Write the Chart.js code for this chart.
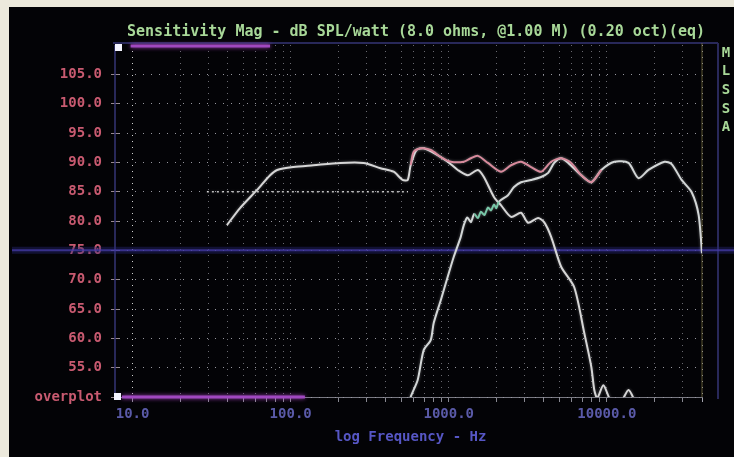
<!DOCTYPE html>
<html>
<head>
<meta charset="utf-8">
<script src="https://cdn.jsdelivr.net/npm/chart.js@4/dist/chart.umd.min.js"></script>
<style>
  html, body { margin: 0; padding: 0; background: #ece9dc; }
  canvas { display: block; }
</style>
</head>
<body>
<canvas id="c" width="734" height="457"></canvas>
<script>
// ---- data ----
const titleText = 'Sensitivity Mag - dB SPL/watt (8.0 ohms, @1.00 M) (0.20 oct)(eq)';
const legendLetters = ['M', 'L', 'S', 'S', 'A'];
const xTitle = 'log Frequency - Hz';
const xDecades = [10, 100, 1000, 10000];
const yTickValues = [50, 55, 60, 65, 70, 75, 80, 85, 90, 95, 100, 105];

const wooferFreq = [39.5, 47.8, 61.3, 74.1, 82.1, 104, 139, 206, 289, 370, 448, 510, 550, 574, 626, 694, 803, 985, 1140, 1321, 1528, 1668, 1931, 2138, 2477, 2866, 3174, 3672, 4010, 4443, 5140, 6220, 7200, 7980, 8330, 8700, 9500, 10370, 11480, 12730, 13700, 14730, 16560];
const wooferDb   = [79.3, 82.2, 85.3, 87.8, 88.7, 89.2, 89.5, 89.9, 89.9, 89.0, 88.4, 87.0, 87.0, 89.5, 92.1, 92.4, 91.6, 90.1, 88.7, 87.8, 88.7, 87.5, 84.1, 82.7, 80.7, 81.4, 79.7, 80.5, 79.8, 77.3, 72.2, 68.7, 60.9, 55.1, 51.2, 49.8, 52.0, 49.8, 47.8, 49.8, 51.2, 49.8, 46.0];

const tweeterFreq = [496, 574, 636, 694, 769, 803, 890, 985, 1076, 1191, 1245, 1310, 1379, 1450, 1528, 1597, 1680, 1770, 1850, 1931, 2000, 2076, 2370, 2588, 2866, 3318, 3838, 4253, 4643, 5140, 5700, 6890, 7980, 9230, 11160, 13700, 15850, 18340, 23180, 25700, 29720, 34420, 38100, 40000];
const tweeterDb   = [44.4, 50.0, 52.9, 58.0, 59.7, 62.6, 66.5, 70.5, 73.9, 77.3, 79.3, 80.6, 79.8, 81.2, 80.5, 81.6, 81.0, 82.3, 81.8, 82.8, 82.2, 83.3, 84.4, 85.8, 86.6, 87.0, 87.5, 88.2, 89.9, 90.7, 89.9, 87.8, 86.6, 88.7, 90.1, 89.9, 87.3, 88.7, 90.1, 89.7, 87.0, 84.9, 81.0, 74.5];

const sumFreq = [574, 600, 664, 769, 890, 1030, 1245, 1379, 1528, 1770, 2138, 2477, 2866, 3318, 3838, 4443, 5140, 5950, 6890, 7980, 9230];
const sumDb   = [89.5, 91.8, 92.4, 92.1, 90.9, 90.1, 90.1, 90.7, 91.1, 89.9, 88.4, 89.5, 90.1, 89.2, 88.4, 90.1, 90.7, 89.9, 87.8, 86.6, 88.7];

const refFreq = [29.5, 552];
const refDb   = [85, 85];

// ---- helpers ----
const pts = (xs, ys) => xs.map((x, i) => ({ x: x, y: ys[i] }));
const mono = '"DejaVu Sans Mono", "Liberation Mono", monospace';

function logTicks() {
  const out = [];
  for (const d of xDecades) {
    for (let m = 1; m <= 9; m++) {
      const v = d * m;
      if (v <= 40000) out.push({ value: v });
    }
  }
  out.push({ value: 40000 });
  return out;
}

const decor = {
  id: 'decor',
  beforeDraw(chart) {
    const ctx = chart.ctx;
    ctx.save();
    ctx.fillStyle = '#ece9dc';
    ctx.fillRect(0, 0, chart.width, chart.height);
    ctx.fillStyle = '#030306';
    ctx.fillRect(9, 7, chart.width - 9, chart.height - 7);
    ctx.restore();
  },
  beforeDatasetsDraw(chart) {
    const ctx = chart.ctx, a = chart.chartArea, y = chart.scales.y;
    ctx.save();
    ctx.strokeStyle = 'rgba(50,50,110,0.8)';
    ctx.lineWidth = 2;
    ctx.beginPath();
    ctx.moveTo(a.left - 6, a.top - 2); ctx.lineTo(a.right + 16, a.top - 2);
    ctx.moveTo(a.right + 16, a.top - 2); ctx.lineTo(a.right + 16, a.bottom + 2);
    ctx.moveTo(a.left - 4, a.top); ctx.lineTo(a.left - 4, a.bottom);
    ctx.stroke();
    ctx.strokeStyle = 'rgba(150,140,80,0.6)';
    ctx.lineWidth = 1;
    ctx.beginPath();
    ctx.moveTo(a.right, a.top - 2); ctx.lineTo(a.right, a.bottom);
    ctx.stroke();
    const yb = y.getPixelForValue(75);
    ctx.strokeStyle = 'rgba(40,40,120,0.4)';
    ctx.lineWidth = 7;
    ctx.beginPath(); ctx.moveTo(12, yb); ctx.lineTo(chart.width, yb); ctx.stroke();
    ctx.strokeStyle = 'rgba(70,60,170,0.75)';
    ctx.lineWidth = 2;
    ctx.beginPath(); ctx.moveTo(12, yb); ctx.lineTo(chart.width, yb); ctx.stroke();
    ctx.restore();
  },
  beforeDatasetDraw(chart) {
    const ctx = chart.ctx;
    ctx.save();
    ctx.shadowColor = 'rgba(255,255,255,0.35)';
    ctx.shadowBlur = 3;
  },
  afterDatasetDraw(chart) {
    chart.ctx.restore();
  },
  afterDatasetsDraw(chart) {
    const ctx = chart.ctx, a = chart.chartArea, x = chart.scales.x;
    ctx.save();
    ctx.shadowColor = 'rgba(200,80,230,0.8)';
    ctx.shadowBlur = 4;
    ctx.strokeStyle = '#a048c0';
    ctx.lineWidth = 3;
    ctx.beginPath();
    ctx.moveTo(x.getPixelForValue(10) - 2, a.top + 1);
    ctx.lineTo(x.getPixelForValue(74), a.top + 1);
    ctx.stroke();
    ctx.beginPath();
    ctx.moveTo(a.left + 3, a.bottom);
    ctx.lineTo(x.getPixelForValue(123), a.bottom);
    ctx.stroke();
    ctx.shadowBlur = 0;
    ctx.fillStyle = '#f4f4ff';
    ctx.fillRect(a.left - 4, a.top - 1, 7, 7);
    ctx.fillRect(a.left - 5, a.bottom - 4, 7, 7);
    ctx.restore();
  },
  afterDraw(chart) {
    const ctx = chart.ctx;
    ctx.save();
    ctx.fillStyle = '#a8d898';
    ctx.font = 'bold 15px ' + mono;
    ctx.textAlign = 'center';
    ctx.textBaseline = 'middle';
    ctx.fillText(titleText, 416, 32);
    ctx.font = 'bold 14px ' + mono;
    legendLetters.forEach((l, i) => ctx.fillText(l, 726, 53 + i * 18.7));
    ctx.restore();
  }
};

new Chart(document.getElementById('c'), {
  type: 'line',
  plugins: [decor],
  data: {
    datasets: [
      { label: 'sum', data: pts(sumFreq, sumDb), borderColor: '#d88a9c', borderWidth: 2, pointRadius: 0, tension: 0.25, order: 1 },
      { label: 'tweeter', data: pts(tweeterFreq, tweeterDb), borderColor: '#d2d6d6', borderWidth: 2, pointRadius: 0, tension: 0.25, order: 2,
        segment: { borderColor: c => (c.p0.parsed.x >= 1450 && c.p0.parsed.x < 2076) ? '#78c8a8' : undefined } },
      { label: 'woofer', data: pts(wooferFreq, wooferDb), borderColor: '#d6d6d6', borderWidth: 2, pointRadius: 0, tension: 0.25, order: 3 },
      { label: 'ref', data: pts(refFreq, refDb), borderColor: 'rgba(230,230,230,0.8)', borderWidth: 1.5, borderDash: [2, 3], pointRadius: 0, order: 4 }
    ]
  },
  options: {
    responsive: false,
    animation: false,
    layout: { padding: { top: 45, right: 32, left: 0, bottom: 0 } },
    plugins: { legend: { display: false }, title: { display: false }, tooltip: { enabled: false } },
    scales: {
      x: {
        type: 'logarithmic',
        min: 8.2,
        max: 40000,
        afterBuildTicks: s => { s.ticks = logTicks(); },
        afterFit: s => { s.height = 60; },
        grid: {
          color: c => (c.tick && c.tick.value === 10) ? 'rgba(230,230,230,0.9)' : 'rgba(190,190,200,0.55)',
          lineWidth: 1,
          tickLength: 5,
          tickColor: 'rgba(170,170,180,0.8)'
        },
        border: { display: true, color: 'rgba(150,150,160,0.8)', width: 1, dash: [1, 5] },
        ticks: {
          autoSkip: false,
          maxRotation: 0,
          padding: 4,
          color: '#5a5aa8',
          font: { family: mono, size: 14, weight: 'bold' },
          callback: v => xDecades.includes(v) ? v.toFixed(1) : ''
        },
        title: {
          display: true,
          text: xTitle,
          color: '#5656c4',
          font: { family: mono, size: 14, weight: 'bold' },
          padding: { top: 4, bottom: 11 }
        }
      },
      y: {
        type: 'linear',
        min: 50,
        max: 110,
        afterBuildTicks: s => { s.ticks = yTickValues.map(v => ({ value: v })); },
        afterFit: s => { s.width = 119; },
        grid: {
          color: 'rgba(200,200,210,0.75)',
          lineWidth: 1,
          tickLength: 8,
          tickColor: 'rgba(190,170,180,0.8)'
        },
        border: { display: false, dash: [1, 7] },
        ticks: {
          padding: 9,
          color: '#c85a70',
          font: { family: mono, size: 14, weight: 'bold' },
          callback: v => v === 50 ? 'overplot' : v.toFixed(1)
        }
      }
    }
  }
});
</script>
</body>
</html>
